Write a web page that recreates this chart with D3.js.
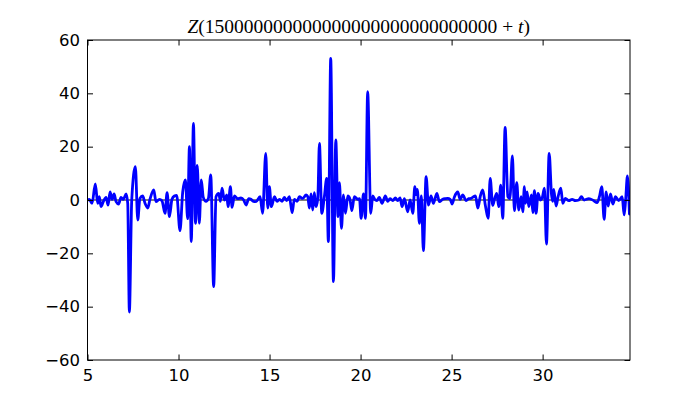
<!DOCTYPE html>
<html>
<head>
<meta charset="utf-8">
<script src="https://cdn.jsdelivr.net/npm/d3@7"></script>
<style>
  html, body { margin: 0; padding: 0; background: #fff; }
  svg { display: block; }
</style>
</head>
<body>
<svg id="chart" width="700" height="400"></svg>
<script>
const titleLead = "150000000000000000000000000000";
const xTicks = [5, 10, 15, 20, 25, 30];
const yTicks = [-60, -40, -20, 0, 20, 40, 60];
const tValues = [
  5.01, 5.10, 5.25, 5.43, 5.56, 5.65, 5.74, 5.87, 6.02, 6.13, 6.24, 6.35, 6.46, 6.57, 6.71, 6.84, 6.97, 7.12, 7.21, 7.30,
  7.43, 7.63, 7.76, 7.88, 8.03, 8.16, 8.31, 8.43, 8.64, 8.76, 8.95, 9.09, 9.26, 9.37, 9.50, 9.64, 9.77, 9.90, 10.08, 10.23,
  10.38, 10.50, 10.60, 10.70, 10.82, 10.93, 11.03, 11.14, 11.25, 11.36, 11.51, 11.64, 11.77, 11.93, 12.06, 12.21, 12.30, 12.39, 12.52, 12.65,
  12.72, 12.85, 12.94, 13.07, 13.25, 13.43, 13.58, 13.71, 13.86, 13.98, 14.11, 14.26, 14.48, 14.62, 14.79, 14.90, 14.99, 15.10, 15.27, 15.41,
  15.54, 15.69, 15.81, 15.94, 16.09, 16.24, 16.36, 16.51, 16.64, 16.82, 17.01, 17.10, 17.19, 17.28, 17.37, 17.46, 17.55, 17.65, 17.74, 17.87,
  18.01, 18.14, 18.23, 18.36, 18.51, 18.64, 18.76, 18.84, 18.95, 19.06, 19.17, 19.30, 19.41, 19.52, 19.66, 19.85, 19.94, 20.03, 20.16, 20.27,
  20.39, 20.56, 20.67, 20.78, 20.89, 21.03, 21.18, 21.36, 21.49, 21.62, 21.77, 21.91, 22.04, 22.17, 22.28, 22.41, 22.59, 22.72, 22.87, 22.98,
  23.05, 23.12, 23.23, 23.34, 23.45, 23.60, 23.73, 23.87, 24.00, 24.19, 24.33, 24.51, 24.66, 24.79, 24.92, 25.03, 25.16, 25.34, 25.47, 25.61,
  25.80, 25.94, 26.07, 26.20, 26.31, 26.44, 26.58, 26.71, 26.86, 27.01, 27.12, 27.26, 27.37, 27.48, 27.59, 27.70, 27.81, 27.94, 28.09, 28.20,
  28.34, 28.45, 28.58, 28.69, 28.82, 28.91, 29.00, 29.06, 29.15, 29.24, 29.39, 29.46, 29.55, 29.64, 29.75, 29.88, 29.97, 30.10, 30.21, 30.36,
  30.49, 30.56, 30.61, 30.74, 30.85, 31.00, 31.11, 31.25, 31.44, 31.62, 31.80, 31.99, 32.13, 32.28, 32.54, 32.81, 32.99, 33.12, 33.25, 33.38,
  33.49, 33.60, 33.73, 33.86, 34.00, 34.18, 34.37, 34.48, 34.56, 34.66, 34.77
];
const zValues = [
  0, 0.25, -1.25, 6, -1.25, 1.25, -2.5, -0.6, 1, -1.9, 3, 0.25, 2.25, -0.6, -1.5, 1, 0.25, 2.25, -1.25, -42,
  0, 12.5, -7.5, 0.6, 1.5, -1.25, -3, 0.25, 3.75, -0.6, 0.25, -0.25, -5, 2.75, -6.25, 0.25, 1.5, 1.75, -11.5, 3,
  7.5, -7, 20, -15.6, 28.75, -8.75, 13, -8.75, 7.5, 1, -0.5, 0.5, 9.4, -32.5, 1.25, 2.5, -0.5, 4.4, 0, 1.9,
  -2.5, 5, -2.75, 1.5, 0.5, 0.75, 0, -1.9, 0.5, 0.25, -0.5, -0.6, 1.25, -5, 17.5, -3, 5, -2.5, 1.25, -0.5,
  0.25, -0.5, 1, -0.25, 1.25, -4.75, 0.25, -0.5, 1.25, 0.6, 1.9, 1.25, -3, 2.25, -3.75, 2.75, -2.5, 0.5, 21.25, -5,
  1.25, 8.1, -15.6, 53.1, -30.6, 22.5, -6.25, 6.5, -10.6, 1.9, -5, 1.5, 0.5, -4, 1.25, 0.25, 0.5, -6.9, 2.25, -6.9,
  40.6, -5, 1.5, 0.25, -0.25, 1, -1.25, 1.5, -0.5, 0.5, -0.25, 0.75, -0.25, 0.75, -2.5, 0.5, -4.4, 0, -5, 5,
  2, 4, -8.75, 1.5, -19, 8.75, -1.9, 1.5, -1.25, 2.5, -0.6, 0.25, 0.5, 0.6, 0.25, -1.5, 1.25, 3, 0.25, 1.9,
  -0.25, 0.5, 0.6, 1.25, 1.5, -3, 1.5, 3.75, -2.25, -6.9, 8.1, -2, 0.6, 2.5, -2.5, 5.6, -6.9, 27.25, 1.25, 0.5,
  16.5, -4, 6.5, -3.75, 1.25, -4.4, 5, -1.25, 3, -2.5, 1.9, -4.75, 3.5, -5, 2.5, 0, 0.6, 4.4, -16.5, 17.5,
  1.9, -0.5, 4, -2.25, 1.25, 4.4, -1.25, 0.6, -0.25, 0.25, -0.25, 0, 1.25, 0, 0.5, -0.25, -1, 1.25, 5, -7.25,
  3, -2.25, 2.25, -1.5, 1.25, -0.25, 1.25, -5.6, 0, 9, -5.25
];

const L = 87.5, R = 630, T = 40, B = 360;
const x = d3.scaleLinear().domain([5, 34.8]).range([L, R]);
const y = d3.scaleLinear().domain([-60, 60]).range([B, T]);
const svg = d3.select("#chart");
const data = tValues.map((t, i) => ({ t, z: zValues[i] }));

svg.append("defs").append("clipPath").attr("id", "clip")
  .append("rect").attr("x", L).attr("y", T).attr("width", R - L).attr("height", B - T);

const plot = svg.append("g").attr("clip-path", "url(#clip)");
plot.append("line")
  .attr("x1", L).attr("x2", R).attr("y1", y(0)).attr("y2", y(0))
  .attr("stroke", "#000").attr("stroke-width", 1);
plot.append("path").datum(data)
  .attr("fill", "none").attr("stroke", "#0000ff").attr("stroke-width", 2.8)
  .attr("stroke-linejoin", "round").attr("stroke-linecap", "round")
  .attr("d", d3.line().x(d => x(d.t)).y(d => y(d.z)).curve(d3.curveMonotoneX));

const tk = 5.5;
const fmt = v => (v < 0 ? "\u2212" + Math.abs(v) : String(v));
const axBottom = d3.axisBottom(x).tickValues(xTicks).tickSizeInner(-tk).tickSizeOuter(0).tickPadding(9).tickFormat(fmt);
const axTop = d3.axisTop(x).tickValues(xTicks).tickSizeInner(-tk).tickSizeOuter(0).tickFormat("");
const axLeft = d3.axisLeft(y).tickValues(yTicks).tickSizeInner(-tk).tickSizeOuter(0).tickPadding(7.5).tickFormat(fmt);
const axRight = d3.axisRight(y).tickValues(yTicks).tickSizeInner(-tk).tickSizeOuter(0).tickFormat("");

function styleAxis(g) {
  g.select(".domain").remove();
  g.selectAll(".tick line").attr("stroke", "#000").attr("stroke-width", 1);
  g.selectAll(".tick text").attr("fill", "#000")
    .style("font-family", "'DejaVu Sans', sans-serif").style("font-size", "16.5px");
}
svg.append("g").attr("transform", `translate(0,${B})`).call(axBottom).call(styleAxis);
svg.append("g").attr("transform", `translate(0,${T})`).call(axTop).call(styleAxis);
svg.append("g").attr("transform", `translate(${L},0)`).call(axLeft).call(styleAxis);
svg.append("g").attr("transform", `translate(${R},0)`).call(axRight).call(styleAxis);

svg.append("rect").attr("x", L).attr("y", T).attr("width", R - L).attr("height", B - T)
  .attr("fill", "none").attr("stroke", "#000").attr("stroke-width", 1);

const title = svg.append("text")
  .attr("x", (L + R) / 2).attr("y", 33).attr("text-anchor", "middle")
  .style("font-family", "'Liberation Serif', 'DejaVu Serif', serif").style("font-size", "19.5px").attr("fill", "#000");
title.append("tspan").style("font-style", "italic").text("Z");
title.append("tspan").text("(" + titleLead + " + ");
title.append("tspan").style("font-style", "italic").text("t");
title.append("tspan").text(")");
</script>
</body>
</html>
